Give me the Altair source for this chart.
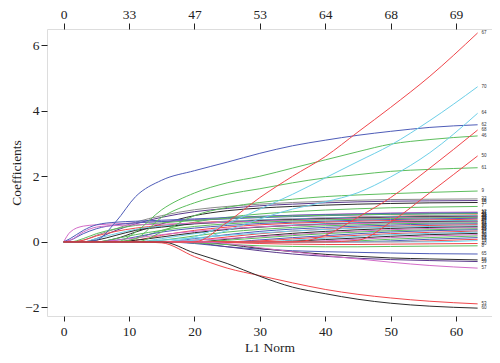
import altair as alt
import pandas as pd

# L1 norm grid at which the coefficient paths are read
X_GRID = [0, 1, 3, 5, 8, 11, 15, 20, 25, 30, 35, 40, 45, 50, 56, 63.3]

# top axis: number of non-zero coefficients at L1 = 0,10,...,60
TOP_TICKS = [0, 10, 20, 30, 40, 50, 60]
TOP_LABELS = ["0", "33", "47", "53", "64", "68", "69"]

RED, GREEN, BLUE, CYAN, MAGENTA, BLACK = "#F0464B", "#5DBE5D", "#4E5CB8", "#6DCFE8", "#D36CC8", "#2B2B2B"
GRAY, PURPLE = "#8C8C8C", "#5B3A8C"

# prominent paths
p67 = [0, 0, 0, 0, 0, 0, 0, 0, 0.6, 1.35, 2.0, 2.6, 3.35, 4.1, 5.05, 6.37]
p70 = [0, 0, 0, 0, 0, 0, 0, 0.15, 0.55, 1.0, 1.45, 1.95, 2.45, 2.95, 3.7, 4.73]
p64 = [0, 0, 0, 0, 0, 0, 0, 0.05, 0.35, 0.7, 1.0, 1.22, 1.5, 1.98, 2.72, 3.92]
p62 = [0, 0, 0, 0.05, 0.62, 1.38, 1.88, 2.17, 2.43, 2.7, 2.93, 3.1, 3.25, 3.37, 3.49, 3.57]
p68 = [0, 0, 0, 0, 0, 0, 0, 0, 0, 0, 0, 0.2, 0.75, 1.35, 2.25, 3.41]
p46 = [0, 0, 0, 0, 0, 0.3, 0.98, 1.49, 1.8, 2.0, 2.25, 2.5, 2.75, 2.98, 3.12, 3.23]
p50 = [0, 0, 0, 0, 0, 0, 0, 0, 0, 0, 0, 0, 0.05, 0.6, 1.5, 2.62]
p61 = [0, 0, 0, 0, 0, 0.1, 0.75, 1.19, 1.45, 1.62, 1.8, 1.95, 2.05, 2.15, 2.21, 2.26]
p9 = [0, 0, 0, 0, 0, 0, 0.3, 0.8, 1.05, 1.2, 1.3, 1.38, 1.43, 1.47, 1.51, 1.55]
p57 = [0, 0, 0, 0, 0, 0, 0, 0, -0.05, -0.18, -0.3, -0.42, -0.52, -0.62, -0.72, -0.8]
p53 = [0, 0, 0, 0, 0, 0, -0.03, -0.45, -0.8, -1.03, -1.25, -1.45, -1.6, -1.71, -1.81, -1.89]
p60 = [0, 0, 0, 0, 0, 0, 0, -0.34, -0.66, -1.05, -1.38, -1.58, -1.75, -1.87, -1.96, -2.02]

# dense bundle of smaller paths (upper part)
cluster_upper = [
    [0, 0, 0.05, 0.2, 0.4, 0.6, 0.8, 0.98, 1.08, 1.15, 1.2, 1.24, 1.27, 1.29, 1.3, 1.31],
    [0, 0, 0, 0.1, 0.35, 0.55, 0.75, 0.92, 1.02, 1.1, 1.15, 1.19, 1.22, 1.24, 1.25, 1.26],
    [0, 0, 0, 0, 0.1, 0.3, 0.55, 0.8, 0.95, 1.03, 1.08, 1.12, 1.15, 1.17, 1.19, 1.2],
    [0, 0, 0, 0, 0, 0.1, 0.35, 0.6, 0.75, 0.85, 0.92, 0.97, 1.01, 1.04, 1.06, 1.08],
    [0, 0.3, 0.48, 0.52, 0.55, 0.58, 0.62, 0.68, 0.72, 0.77, 0.81, 0.84, 0.86, 0.88, 0.9, 0.91],
    [0, 0.1, 0.35, 0.52, 0.6, 0.63, 0.66, 0.7, 0.74, 0.78, 0.81, 0.83, 0.85, 0.87, 0.88, 0.89],
    [0, 0.05, 0.25, 0.4, 0.52, 0.58, 0.62, 0.66, 0.7, 0.74, 0.77, 0.8, 0.82, 0.84, 0.86, 0.87],
    [0, 0, 0.1, 0.25, 0.4, 0.5, 0.58, 0.65, 0.72, 0.76, 0.79, 0.81, 0.83, 0.84, 0.85, 0.86],
    [0, 0, 0.05, 0.18, 0.32, 0.42, 0.5, 0.58, 0.63, 0.67, 0.7, 0.73, 0.76, 0.78, 0.8, 0.82],
    [0, 0, 0, 0.1, 0.25, 0.38, 0.48, 0.56, 0.62, 0.67, 0.7, 0.73, 0.75, 0.77, 0.79, 0.8],
    [0, 0, 0, 0.05, 0.2, 0.35, 0.45, 0.55, 0.6, 0.65, 0.68, 0.71, 0.73, 0.75, 0.77, 0.78],
    [0, 0.05, 0.3, 0.45, 0.5, 0.52, 0.54, 0.57, 0.6, 0.63, 0.66, 0.69, 0.71, 0.73, 0.75, 0.76],
]
cluster_mid = [
    [0, 0, 0, 0, 0.1, 0.22, 0.35, 0.47, 0.55, 0.6, 0.64, 0.67, 0.69, 0.71, 0.73, 0.74],
    [0, 0, 0, 0, 0.05, 0.15, 0.3, 0.42, 0.5, 0.56, 0.6, 0.63, 0.66, 0.68, 0.7, 0.72],
    [0, 0, 0, 0, 0, 0.05, 0.2, 0.35, 0.45, 0.52, 0.57, 0.6, 0.63, 0.65, 0.67, 0.69],
    [0, 0, 0, 0, 0, 0, 0.1, 0.25, 0.38, 0.46, 0.52, 0.56, 0.59, 0.62, 0.64, 0.66],
    [0, 0, 0, 0, 0, 0.05, 0.15, 0.28, 0.38, 0.45, 0.5, 0.54, 0.57, 0.6, 0.62, 0.63],
    [0, 0, 0, 0, 0.05, 0.12, 0.22, 0.32, 0.4, 0.46, 0.5, 0.53, 0.56, 0.58, 0.6, 0.61],
    [0, 0, 0, 0, 0, 0, 0.05, 0.18, 0.3, 0.38, 0.44, 0.49, 0.52, 0.55, 0.57, 0.58],
    [0, 0, 0, 0, 0, 0, 0, 0.1, 0.22, 0.32, 0.39, 0.44, 0.48, 0.51, 0.54, 0.55],
    [0, 0, 0, 0, 0, 0, 0, 0.05, 0.15, 0.25, 0.33, 0.39, 0.44, 0.47, 0.5, 0.52],
    [0, 0, 0, 0, 0, 0, 0.05, 0.12, 0.2, 0.27, 0.33, 0.38, 0.42, 0.45, 0.47, 0.49],
    [0, 0, 0, 0, 0, 0, 0, 0, 0.08, 0.18, 0.26, 0.32, 0.37, 0.41, 0.44, 0.46],
    [0, 0, 0, 0, 0, 0, 0, 0.05, 0.1, 0.16, 0.22, 0.28, 0.33, 0.37, 0.41, 0.43],
]
cluster_low = [
    [0, 0, 0, 0, 0, 0, 0, 0, 0.05, 0.12, 0.19, 0.25, 0.3, 0.34, 0.37, 0.4],
    [0, 0, 0, 0, 0, 0, 0, 0, 0, 0.06, 0.13, 0.19, 0.25, 0.3, 0.34, 0.37],
    [0, 0, 0, 0, 0, 0, 0, 0, 0, 0.03, 0.09, 0.15, 0.2, 0.25, 0.29, 0.33],
    [0, 0, 0, 0, 0, 0, 0, 0, 0, 0, 0.05, 0.11, 0.17, 0.22, 0.26, 0.3],
    [0, 0, 0, 0, 0, 0, 0, 0, 0, 0, 0.02, 0.07, 0.12, 0.17, 0.22, 0.26],
    [0, 0, 0, 0, 0, 0, 0, 0, 0, 0, 0, 0.03, 0.08, 0.13, 0.18, 0.22],
    [0, 0, 0, 0, 0, 0, 0, 0, 0, 0, 0, 0, 0.03, 0.08, 0.13, 0.18],
    [0, 0, 0, 0, 0, 0, 0, 0, 0, 0, 0, 0, 0, 0.03, 0.08, 0.13],
    [0, 0, 0, 0, 0, 0, 0, 0, 0, 0, 0, 0, 0, 0, 0.03, 0.08],
    [0, 0, 0, 0, 0, 0, 0, 0, 0, 0, 0, 0, 0, 0, 0, 0.04],
]
cluster_neg = [
    [0, 0, 0, 0, 0, 0, 0, -0.05, -0.15, -0.22, -0.27, -0.3, -0.32, -0.34, -0.36, -0.37],
    [0, 0, 0, 0, 0, 0, 0, 0, -0.08, -0.2, -0.3, -0.38, -0.44, -0.49, -0.52, -0.55],
    [0, 0, 0, 0, 0, 0, 0, -0.03, -0.15, -0.27, -0.37, -0.44, -0.5, -0.54, -0.57, -0.6],
    [0, 0, 0, 0, 0, 0, 0, -0.03, -0.08, -0.12, -0.14, -0.15, -0.15, -0.14, -0.13, -0.12],
    [0, 0, 0, 0, 0, 0, 0, 0, -0.02, -0.05, -0.07, -0.08, -0.08, -0.07, -0.06, -0.05],
]

cluster_upper_names = ["22", "38", "15", "7", "12", "3", "27", "41", "18", "33", "2", "44"]
cluster_mid_names = ["29", "11", "36", "24", "48", "6", "31", "14", "52", "20", "39", "4"]
cluster_low_names = ["26", "43", "17", "35", "1", "30", "45", "13", "55", "19"]
cluster_neg_names = ["65", "58", "59", "8", "40"]

cluster_upper_colors = [GRAY, PURPLE, BLACK, GREEN, MAGENTA, BLUE, BLUE, GREEN, RED, CYAN, BLACK, MAGENTA]
cluster_mid_colors = [GREEN, BLUE, RED, CYAN, BLACK, MAGENTA, GREEN, BLUE, RED, CYAN, BLACK, MAGENTA]
cluster_low_colors = [GREEN, BLUE, RED, CYAN, BLACK, MAGENTA, GREEN, BLUE, RED, CYAN]
cluster_neg_colors = [BLUE, BLACK, PURPLE, GREEN, RED]

main_names = ["9", "61", "46", "62", "64", "70", "50", "68", "57", "53", "60", "67"]
main_values = [p9, p61, p46, p62, p64, p70, p50, p68, p57, p53, p60, p67]
main_colors = [GREEN, GREEN, GREEN, BLUE, CYAN, CYAN, RED, RED, MAGENTA, RED, BLACK, RED]

names = cluster_upper_names + cluster_mid_names + cluster_low_names + cluster_neg_names + main_names
values = cluster_upper + cluster_mid + cluster_low + cluster_neg + main_values
colors = cluster_upper_colors + cluster_mid_colors + cluster_low_colors + cluster_neg_colors + main_colors

rows = []
ends = []
for k, (nm, vals) in enumerate(zip(names, values)):
    key = f"{k:02d}_{nm}"
    for xv, yv in zip(X_GRID, vals):
        rows.append({"x": xv, "y": yv, "id": key})
    ends.append({"x": X_GRID[-1], "y": vals[-1], "label": nm})
df = pd.DataFrame(rows)
df_end = pd.DataFrame(ends)
keys = [f"{k:02d}_{nm}" for k, nm in enumerate(names)]

FONT = "Liberation Serif"
INK = "#222222"
xscale = alt.Scale(domain=[-2.55, 65.5], nice=False, zero=False)
yscale = alt.Scale(domain=[-2.26, 6.49], nice=False, zero=False)

x_bottom = alt.Axis(
    values=TOP_TICKS, title="L1 Norm", grid=False, domain=False, tickSize=5,
    tickColor=INK, labelColor=INK, labelFont=FONT, labelFontSize=13.5,
    labelPadding=3, titleFont=FONT, titleFontSize=13.5, titleFontWeight="normal",
    titleColor=INK, titlePadding=3, orient="bottom")
y_left = alt.Axis(
    values=[-2, 0, 2, 4, 6], title="Coefficients", grid=False, domain=False, tickSize=6,
    tickColor=INK, labelColor=INK, labelFont=FONT, labelFontSize=13.5,
    labelPadding=2, titleFont=FONT, titleFontSize=13.5, titleFontWeight="normal",
    titleColor=INK, titlePadding=1)

lines = alt.Chart(df).mark_line(strokeWidth=1, interpolate="monotone", clip=True).encode(
    x=alt.X("x:Q", scale=xscale, axis=x_bottom),
    y=alt.Y("y:Q", scale=yscale, axis=y_left),
    color=alt.Color("id:N", scale=alt.Scale(domain=keys, range=colors), legend=None),
    detail="id:N",
)

labels = alt.Chart(df_end).mark_text(align="left", baseline="middle", dx=4, fontSize=4.5,
                                     font="Liberation Sans", color="#333333").encode(
    x=alt.X("x:Q", scale=xscale, axis=None),
    y=alt.Y("y:Q", scale=yscale, axis=y_left),
    text="label:N",
)

top_expr = "[" + ",".join(f"'{t}'" for t in TOP_LABELS) + "][round(datum.value/10)]"
top = alt.Chart(pd.DataFrame({"x": TOP_TICKS})).mark_point(opacity=0).encode(
    x=alt.X("x:Q", scale=xscale, axis=alt.Axis(
        orient="top", values=TOP_TICKS, labelExpr=top_expr, title=None, grid=False,
        domain=False, tickSize=6, tickColor=INK, labelColor=INK,
        labelFont=FONT, labelFontSize=13.5, labelPadding=2)),
)

chart = alt.layer(lines, labels, top).resolve_axis(x="independent").properties(
    width=445, height=287,
    autosize=alt.AutoSizeParams(type="none"),
    padding={"left": 39, "top": 21, "right": 0, "bottom": 39},
).configure_view(stroke=INK, strokeWidth=1.2).configure(background="white")

chart.save("out.html", embed_options={"renderer": "svg", "actions": False})
